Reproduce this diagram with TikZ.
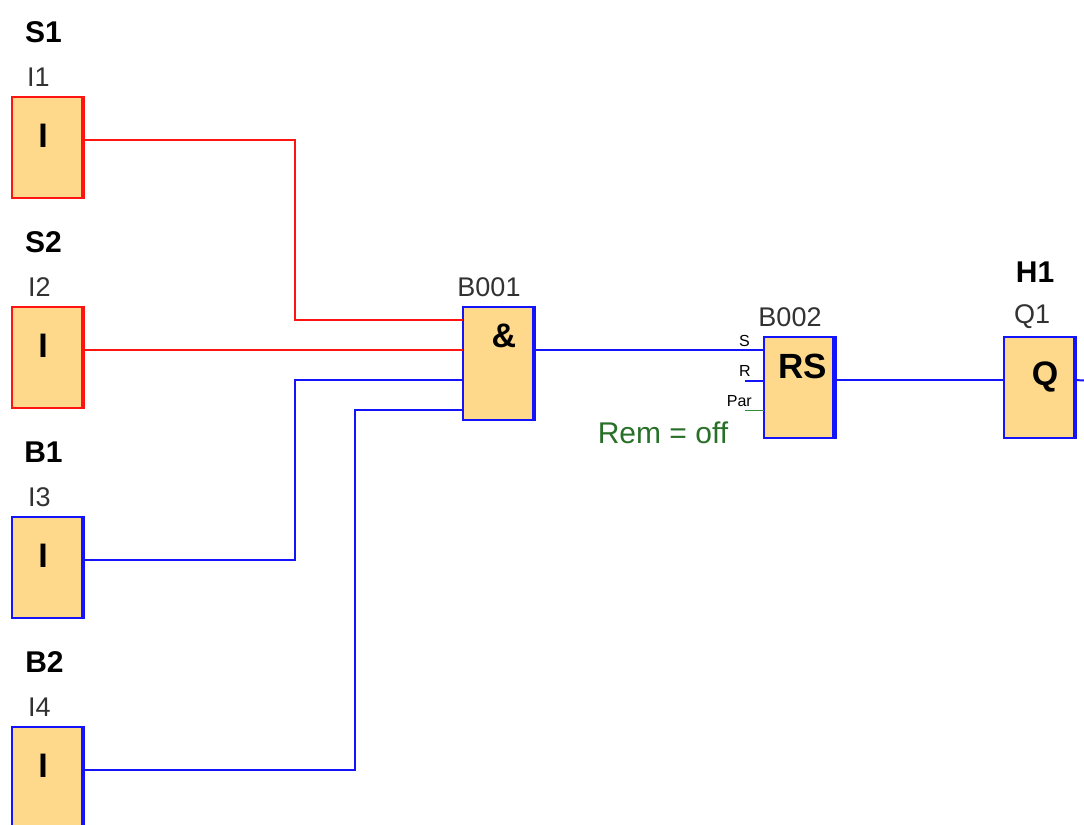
\documentclass[tikz,border=0pt]{standalone}
\usepackage{fontspec}
\setmainfont{Liberation Sans}
\definecolor{boxfill}{RGB}{254,217,139}
\definecolor{wred}{RGB}{255,20,20}
\definecolor{wblue}{RGB}{20,20,250}
\definecolor{wgreen}{RGB}{50,140,50}
\definecolor{labgray}{RGB}{50,50,50}
\newcommand{\fs}[1]{\fontsize{\dimexpr #1pt*3/4\relax}{\dimexpr #1pt*3/4\relax}\selectfont}
\tikzset{
  x=0.75pt,y=0.75pt,
  block/.style={draw=#1,fill=boxfill,line width=1.5pt,inner sep=0pt,outer sep=0pt,minimum width=53.25pt,minimum height=75.75pt},
  redblock/.style={block=wred},
  blueblock/.style={block=wblue},
  tallblock/.style={blueblock,minimum height=84.75pt},
  wire/.style={line width=1.5pt,#1},
  redwire/.style={wire=wred},
  bluewire/.style={wire=wblue},
  greenwire/.style={wire=wgreen,line width=1.2pt},
  name label/.style={font=\fs{30}\bfseries,text=black,inner sep=0pt},
  addr label/.style={font=\fs{27},text=labgray,inner sep=0pt},
  sym label/.style={font=\fs{34}\bfseries,text=black,inner sep=0pt},
  pin label/.style={font=\fs{16},text=black,inner sep=0pt,anchor=base east},
  thick edge/.style={line width=3.2pt,line cap=butt,xshift=-0.6pt,shorten >=-0.75pt,shorten <=-0.75pt},
}
\begin{document}
\begin{tikzpicture}
\useasboundingbox (0,0) rectangle (1084,-824);
\clip (0,0) rectangle (1084,-824);
% blocks
\node[redblock]  (i1) at (47.5,-147) {};
\node[redblock]  (i2) at (47.5,-357) {};
\node[blueblock] (i3) at (47.5,-567) {};
\node[blueblock] (i4) at (47.5,-777) {};
\node[tallblock] (b1) at (498.5,-363) {};
\node[blueblock] (b2) at (799,-387) {};
\node[blueblock] (q1) at (1039.5,-387) {};
% heavy right edges
\draw[thick edge,wred]  (i1.north east) -- (i1.south east);
\draw[thick edge,wred]  (i2.north east) -- (i2.south east);
\draw[thick edge,wblue] (i3.north east) -- (i3.south east);
\draw[thick edge,wblue] (i4.north east) -- (i4.south east);
\draw[thick edge,wblue] (b1.north east) -- (b1.south east);
\draw[thick edge,wblue] (b2.north east) -- (b2.south east);
\draw[thick edge,wblue] (q1.north east) -- (q1.south east);
% routing coordinates
\coordinate (v1) at (295,-230);
\coordinate (v3) at (295,-470);
\coordinate (v4) at (355,-590);
\coordinate (rstub) at (745,-380.5);
\coordinate (pstub) at (745,-410.5);
\coordinate (qout) at (1084,-380.5);
% wires
\draw[redwire]  ([yshift=5.25pt]i1.east) -| (v1) |- ([yshift=32.25pt]b1.west);
\draw[redwire]  ([yshift=5.25pt]i2.east) -- ([yshift=9.75pt]b1.west);
\draw[bluewire] ([yshift=5.25pt]i3.east) -| (v3) |- ([yshift=-12.75pt]b1.west);
\draw[bluewire] ([yshift=5.25pt]i4.east) -| (v4) |- ([yshift=-35.25pt]b1.west);
\draw[bluewire] ([yshift=9.75pt]b1.east) -- ([yshift=27.75pt]b2.west);
\draw[bluewire] (rstub) -- (rstub -| b2.west);
\draw[greenwire] (pstub) -- (pstub -| b2.west);
\draw[bluewire] ([yshift=5.25pt]b2.east) -- ([yshift=5.25pt]q1.west);
\draw[bluewire] ([yshift=5.25pt]q1.east) -- (qout);
% block symbols
\node[sym label] (si1) at (43,-136) {I};
\node[sym label] (si2) at (43,-346) {I};
\node[sym label] (si3) at (43,-556) {I};
\node[sym label] (si4) at (43,-766) {I};
\node[sym label] (sb1) at (504,-336) {\&};
\node[sym label,font=\fs{35}\bfseries] (sb2) at (803,-366) {RS};
\node[sym label] (sq1) at (1045,-377) {Q};
% names
\node[name label] (n1) at (43.5,-32) {S1};
\node[name label] (n2) at (43.5,-242) {S2};
\node[name label] (n3) at (43.5,-452) {B1};
\node[name label] (n4) at (44.5,-662) {B2};
\node[name label] (n5) at (1035,-272) {H1};
% addresses
\node[addr label] (a1) at (38.5,-77) {I1};
\node[addr label] (a2) at (39.5,-287) {I2};
\node[addr label] (a3) at (39.5,-497) {I3};
\node[addr label] (a4) at (39.5,-707) {I4};
\node[addr label] (a5) at (489,-287) {B001};
\node[addr label] (a6) at (790,-317) {B002};
\node[addr label] (a7) at (1032,-317) {Q1};
% pin labels
\node[pin label] (ps) at (750,-346) {S};
\node[pin label] (pr) at (751,-376) {R};
\node[pin label] (pp) at (752,-406) {Par};
\node[font=\fs{30},text=wgreen!80!black,inner sep=0pt] (rem) at (663,-433) {Rem = off};
\end{tikzpicture}
\end{document}
